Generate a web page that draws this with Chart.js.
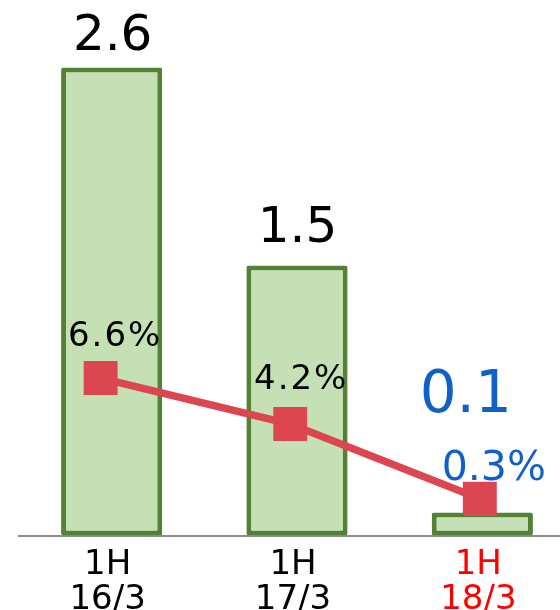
<!DOCTYPE html>
<html>
<head>
<meta charset="utf-8">
<script src="https://cdn.jsdelivr.net/npm/chart.js@4/dist/chart.umd.min.js"></script>
<style>
  html, body { margin: 0; padding: 0; background: #ffffff; overflow: hidden; }
  #wrap { position: relative; width: 575px; height: 610px; }
</style>
</head>
<body>
<div id="wrap"><canvas id="c"></canvas></div>
<script>
// Half-year periods, profit (bars) and margin (line)
const periods = [['1H', '16/3'], ['1H', '17/3'], ['1H', '18/3']];
const profit = [2.6, 1.5, 0.1];
const margin = [6.6, 4.2, 0.3];
const profitLabels = ['2.6', '1.5', '0.1'];
const marginLabels = ['6.6%', '4.2%', '0.3%'];
const highlightIndex = 2;

const FONT = '"DejaVu Sans", sans-serif';

// Draws the value labels above the bars and the line points
const valueLabels = {
  id: 'valueLabels',
  afterDatasetsDraw(chart, args, opts) {
    const ctx = chart.ctx;
    const barMeta = chart.getDatasetMeta(0);
    const lineMeta = chart.getDatasetMeta(1);
    ctx.save();
    ctx.textAlign = 'center';
    ctx.textBaseline = 'alphabetic';
    barMeta.data.forEach((el, i) => {
      const st = opts.bar[i];
      ctx.font = st.size + 'px ' + FONT;
      ctx.fillStyle = st.color;
      ctx.letterSpacing = (st.spacing || 0) + 'px';
      ctx.fillText(profitLabels[i], el.x + st.dx + (st.spacing || 0) / 2, el.y + st.dy);
    });
    lineMeta.data.forEach((el, i) => {
      const st = opts.line[i];
      ctx.font = st.size + 'px ' + FONT;
      ctx.fillStyle = st.color;
      ctx.letterSpacing = (st.spacing || 0) + 'px';
      ctx.fillText(marginLabels[i], el.x + st.dx + (st.spacing || 0) / 2, el.y + st.dy);
    });
    ctx.restore();
  }
};

new Chart(document.getElementById('c'), {
  type: 'bar',
  data: {
    labels: periods,
    datasets: [
      {
        type: 'bar',
        data: profit,
        xAxisID: 'x',
        yAxisID: 'y',
        backgroundColor: '#c5e0b4',
        borderColor: '#548235',
        borderWidth: 5,
        borderRadius: 2,
        borderSkipped: false,
        grouped: false,
        categoryPercentage: 1,
        barPercentage: 0.546,
        minBarLength: 23,
        order: 2
      },
      {
        type: 'line',
        data: margin.map((v, i) => ({ x: i, y: v })),
        xAxisID: 'x2',
        yAxisID: 'y2',
        borderColor: '#dc4650',
        backgroundColor: '#dc4650',
        borderWidth: 7.5,
        pointStyle: 'rect',
        pointRadius: 24,
        pointBorderWidth: 0,
        pointBackgroundColor: '#dc4650',
        tension: 0,
        order: 1
      }
    ]
  },
  options: {
    responsive: true,
    maintainAspectRatio: false,
    animation: false,
    devicePixelRatio: 1,
    layout: { padding: { left: 19, right: 0, top: 0, bottom: 0 }, autoPadding: false },
    plugins: {
      legend: { display: false },
      tooltip: { enabled: false },
      valueLabels: {
        bar: [
          { dx: 1, dy: -18, size: 50, color: '#000000' },
          { dx: 0.5, dy: -24, size: 50, color: '#000000' },
          { dx: -16.5, dy: -101, size: 58, color: '#1160c8' }
        ],
        line: [
          { dx: 13.5, dy: -32, size: 34, spacing: 2, color: '#000000' },
          { dx: 10, dy: -35, size: 34, spacing: 2, color: '#000000' },
          { dx: 14, dy: -18.7, size: 41, spacing: 0, color: '#1160c8' }
        ]
      }
    },
    scales: {
      x: {
        type: 'category',
        offset: true,
        afterFit: s => { s.height = 74.5; },
        grid: { display: false, drawTicks: false },
        border: { display: true, color: '#8c8c8c', width: 2 },
        ticks: {
          padding: 12,
          labelOffset: -4,
          font: { family: FONT, size: 34, lineHeight: 1.03 },
          color: c => (c.index === highlightIndex ? '#ff0000' : '#000000'),
          maxRotation: 0,
          autoSkip: false
        }
      },
      x2: {
        type: 'linear',
        display: false,
        offset: false,
        grace: 0,
        min: -0.4306,
        max: 2.502
      },
      y: {
        display: false,
        min: 0,
        max: 2.975
      },
      y2: {
        display: false,
        min: -1.618,
        max: 26.33
      }
    }
  },
  plugins: [valueLabels]
});
</script>
</body>
</html>
